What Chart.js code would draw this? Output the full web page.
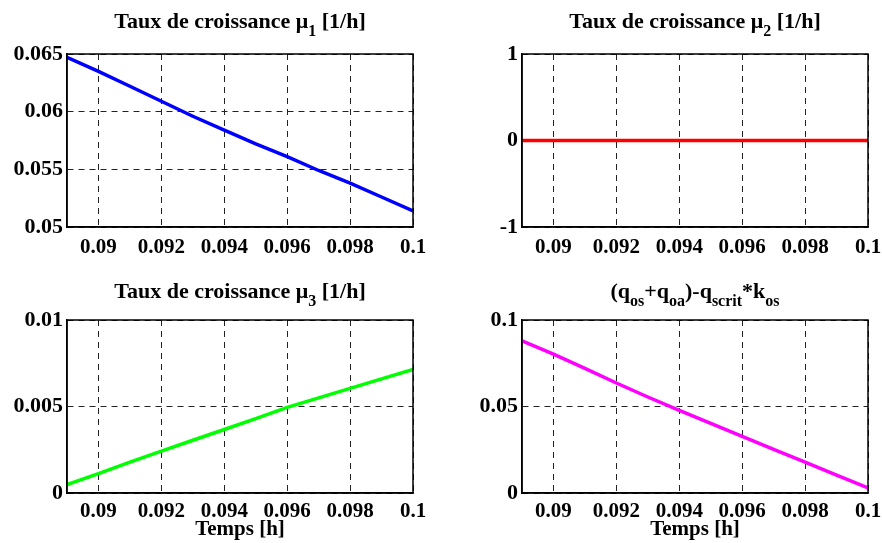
<!DOCTYPE html>
<html>
<head>
<meta charset="utf-8">
<script src="https://cdn.jsdelivr.net/npm/chart.js@4"></script>
<style>
  body { margin: 0; background: #fff; }
  #wrap { position: relative; width: 882px; height: 543px; }
  canvas { position: absolute; }
</style>
</head>
<body>
<div id="wrap">
  <canvas id="c1" width="441" height="271" style="left:0;top:0"></canvas>
  <canvas id="c2" width="441" height="271" style="left:441px;top:0"></canvas>
  <canvas id="c3" width="441" height="272" style="left:0;top:271px"></canvas>
  <canvas id="c4" width="441" height="272" style="left:441px;top:271px"></canvas>
</div>
<script>
// time axis (h)
const temps = [0.089, 0.090, 0.091, 0.092, 0.093, 0.094, 0.095, 0.096, 0.097, 0.098, 0.099, 0.100];
const xTicks = [0.09, 0.092, 0.094, 0.096, 0.098, 0.1];

// series
const mu1 = [0.0647, 0.0635, 0.0622, 0.0609, 0.0596, 0.0584, 0.0572, 0.0561, 0.0549, 0.0538, 0.0526, 0.0514];
const mu2 = [0, 0, 0, 0, 0, 0, 0, 0, 0, 0, 0, 0];
const mu3 = [0.00048, 0.00112, 0.00178, 0.00242, 0.00305, 0.00367, 0.00430, 0.00495, 0.00550, 0.00605, 0.00660, 0.00714];
const qDiff = [0.0880, 0.0803, 0.0720, 0.0636, 0.0555, 0.0478, 0.0402, 0.0327, 0.0252, 0.0178, 0.0103, 0.0029];

// y tick labels per panel
const yTicks1 = [0.05, 0.055, 0.06, 0.065];
const yTicks2 = [-1, 0, 1];
const yTicks3 = [0, 0.005, 0.01];
const yTicks4 = [0, 0.05, 0.1];

const FONT = '"Liberation Serif", "Times New Roman", serif';

// title with subscripts, drawn over the plot area
const subTitle = {
  id: 'subTitle',
  afterDraw(chart, args, opts) {
    const { ctx, chartArea } = chart;
    const fnt = sub => 'bold ' + (sub ? 16 : 22) + 'px ' + FONT;
    ctx.save();
    ctx.fillStyle = '#000';
    ctx.textAlign = 'left';
    ctx.textBaseline = 'alphabetic';
    let w = 0;
    opts.parts.forEach(p => { ctx.font = fnt(p.sub); w += ctx.measureText(p.t).width; });
    let x = (chartArea.left + chartArea.right) / 2 - w / 2;
    opts.parts.forEach(p => {
      ctx.font = fnt(p.sub);
      ctx.fillText(p.t, x, opts.y + (p.sub ? 8 : 0));
      x += ctx.measureText(p.t).width;
    });
    ctx.restore();
  }
};

// closed box round the axes
const boxPlugin = {
  id: 'boxPlugin',
  afterDraw(chart) {
    const { ctx, chartArea: a } = chart;
    ctx.save();
    ctx.strokeStyle = '#000';
    ctx.lineWidth = 1.5;
    ctx.strokeRect(a.left, a.top, a.right - a.left, a.bottom - a.top);
    ctx.restore();
  }
};

function makeChart(id, values, color, yTicks, yMin, yMax, parts, p) {
  const ctx = document.getElementById(id).getContext('2d');
  return new Chart(ctx, {
    type: 'line',
    data: {
      datasets: [{
        data: temps.map((t, i) => ({ x: t, y: values[i] })),
        borderColor: color,
        borderWidth: 3.5,
        pointRadius: 0,
        tension: 0,
        fill: false
      }]
    },
    options: {
      responsive: false,
      animation: false,
      devicePixelRatio: 1,
      layout: { padding: { top: p.top, right: p.right, left: 0, bottom: 0 } },
      plugins: {
        legend: { display: false },
        tooltip: { enabled: false },
        subTitle: { parts: parts, y: p.titleY }
      },
      scales: {
        x: {
          type: 'linear',
          min: 0.089,
          max: 0.1,
          afterBuildTicks: s => { s.ticks = xTicks.map(v => ({ value: v })); },
          afterFit: s => { s.height = p.xh; s.paddingLeft = 0; s.paddingRight = 0; },
          ticks: {
            color: '#000',
            font: { family: FONT, size: 21, weight: 'bold' },
            padding: p.xpad,
            maxRotation: 0,
            autoSkip: false,
            callback: v => String(v)
          },
          grid: { color: '#222', lineWidth: 1, drawTicks: false },
          border: { display: true, color: '#000', width: 1.5, dash: [6, 5] },
          title: {
            display: p.xTitle,
            text: 'Temps [h]',
            color: '#000',
            font: { family: FONT, size: 21, weight: 'bold', lineHeight: 1 },
            padding: { top: 0, bottom: 3 }
          }
        },
        y: {
          type: 'linear',
          min: yMin,
          max: yMax,
          afterBuildTicks: s => { s.ticks = yTicks.map(v => ({ value: v })); },
          afterFit: s => { s.width = p.yw; s.paddingTop = 0; s.paddingBottom = 0; },
          ticks: {
            color: '#000',
            font: { family: FONT, size: 22, weight: 'bold' },
            padding: 4,
            autoSkip: false,
            callback: v => String(v)
          },
          grid: { color: '#222', lineWidth: 1, drawTicks: false },
          border: { display: true, color: '#000', width: 1.5, dash: [6, 5] }
        }
      }
    },
    plugins: [subTitle, boxPlugin]
  });
}

makeChart('c1', mu1, '#0000ff', yTicks1, 0.05, 0.065,
  [{ t: 'Taux de croissance \u03bc' }, { t: '1', sub: true }, { t: ' [1/h]' }],
  { top: 54, right: 28, yw: 67, xh: 44, xpad: 8, titleY: 28, xTitle: false });

makeChart('c2', mu2, '#ff0000', yTicks2, -1, 1,
  [{ t: 'Taux de croissance \u03bc' }, { t: '2', sub: true }, { t: ' [1/h]' }],
  { top: 54, right: 14, yw: 81, xh: 44, xpad: 8, titleY: 28, xTitle: false });

makeChart('c3', mu3, '#00ff00', yTicks3, 0, 0.01,
  [{ t: 'Taux de croissance \u03bc' }, { t: '3', sub: true }, { t: ' [1/h]' }],
  { top: 49, right: 28, yw: 67, xh: 50, xpad: 6, titleY: 27, xTitle: true });

makeChart('c4', qDiff, '#ff00ff', yTicks4, 0, 0.1,
  [{ t: '(q' }, { t: 'os', sub: true }, { t: '+q' }, { t: 'oa', sub: true }, { t: ')-q' },
   { t: 'scrit', sub: true }, { t: '*k' }, { t: 'os', sub: true }],
  { top: 49, right: 14, yw: 81, xh: 50, xpad: 6, titleY: 27, xTitle: true });
</script>
</body>
</html>
